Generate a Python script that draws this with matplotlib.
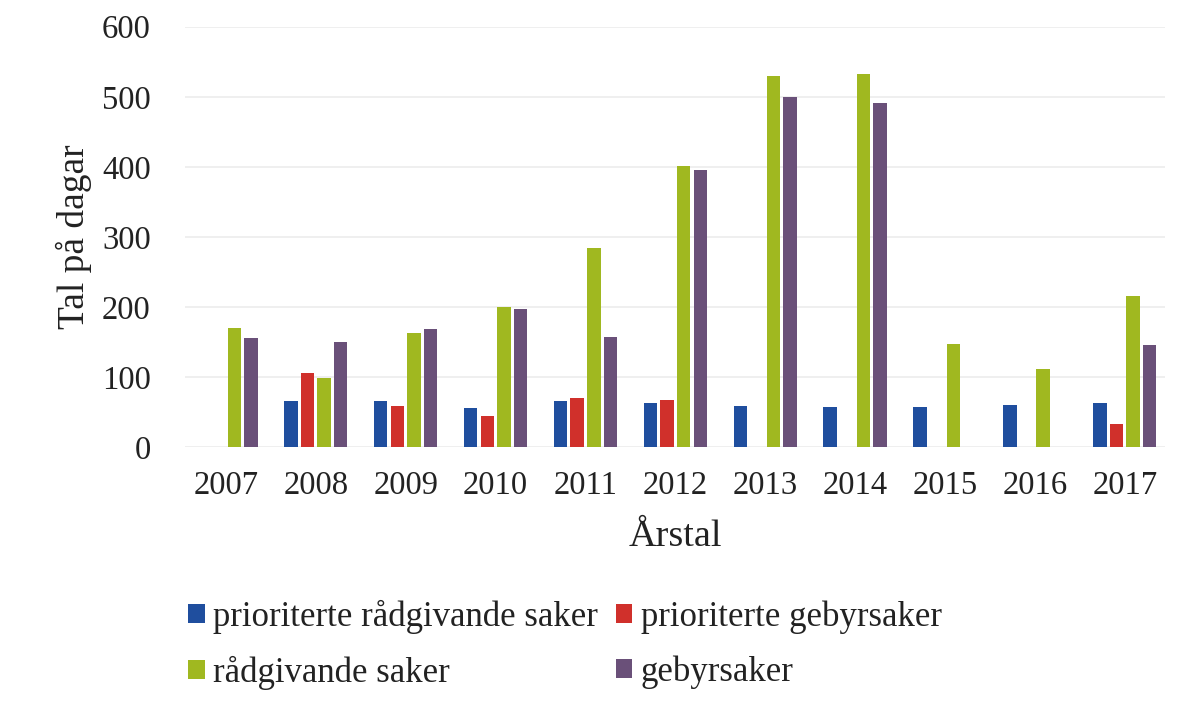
import matplotlib
matplotlib.use("Agg")
import matplotlib.pyplot as plt
import numpy as np

years = ["2007", "2008", "2009", "2010", "2011", "2012", "2013", "2014", "2015", "2016", "2017"]
prior_raad = [0, 66, 66, 56, 66, 63, 59, 57, 57, 60, 63]
prior_gebyr = [0, 106, 59, 44, 70, 67, 0, 0, 0, 0, 33]
raad = [170, 99, 163, 200, 284, 401, 530, 533, 147, 111, 216]
gebyr = [156, 150, 169, 197, 157, 396, 500, 491, 0, 0, 146]

series = [
    ("prioriterte rådgivande saker", prior_raad, "#1f4e9e"),
    ("prioriterte gebyrsaker", prior_gebyr, "#d0302b"),
    ("rådgivande saker", raad, "#a0b820"),
    ("gebyrsaker", gebyr, "#6a5079"),
]

plt.rcParams["font.family"] = ["Liberation Serif", "DejaVu Serif"]
txt = "#222222"

fig = plt.figure(figsize=(11.89, 7.03), dpi=100)
ax = fig.add_axes([0.156, 0.364, 0.824, 0.598])

x = np.arange(len(years))
slot = 0.185
width = 0.15
bars = []
for i, (name, vals, col) in enumerate(series):
    b = ax.bar(x + (i - 1.5) * slot, vals, width=width, color=col, label=name, zorder=3)
    bars.append(b)

ax.set_ylim(0, 600)
ax.set_xlim(-0.45, len(years) - 0.55)
ax.set_yticks(range(0, 601, 100))
ax.set_xticks(x)
ax.set_xticklabels(years)
ax.tick_params(axis="both", length=0, labelsize=23.5, colors=txt)
ax.tick_params(axis="y", pad=25)
ax.tick_params(axis="x", pad=17)
ax.yaxis.grid(True, color="#ececec", linewidth=1.2, zorder=0)
for s in ax.spines.values():
    s.set_visible(False)

ax.set_ylabel("Tal på dagar", fontsize=27, color=txt, labelpad=7)
ax.set_xlabel("Årstal", fontsize=27.5, color=txt, labelpad=13)

# legend rows: blue, red / green, purple
order = [0, 2, 1, 3]
fig.legend([bars[i] for i in order], [series[i][0] for i in order],
           loc="upper left", bbox_to_anchor=(188 / 1189, 1 - 600 / 703),
           bbox_transform=fig.transFigure, ncol=2, frameon=False,
           fontsize=25, handlelength=0.48, handleheight=0.48,
           handletextpad=0.25, columnspacing=0.5, labelspacing=0.62,
           borderpad=0, borderaxespad=0, labelcolor=txt)

fig.savefig("out.png", dpi=100)
